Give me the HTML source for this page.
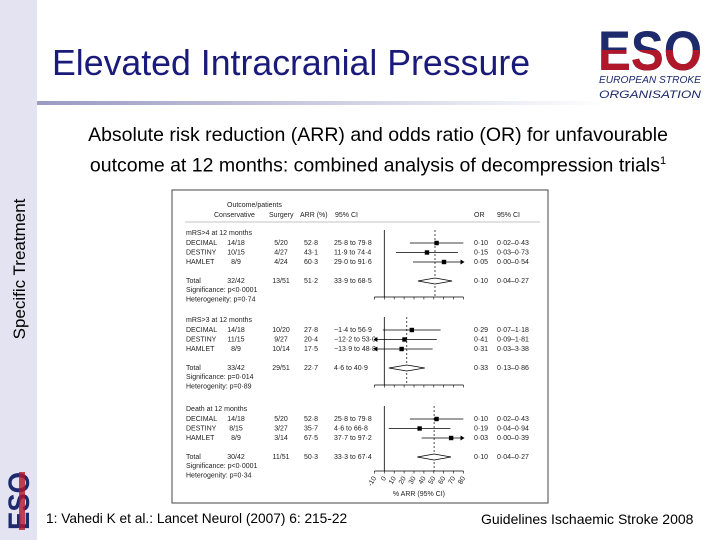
<!DOCTYPE html>
<html><head><meta charset="utf-8"><style>
body{margin:0;width:720px;height:540px;background:#fff;position:relative;overflow:hidden;font-family:"Liberation Sans",sans-serif}
.abs{position:absolute}
</style></head><body>
<div class="abs" style="left:0;top:0;width:37px;height:540px;background:#e3e3f1"></div>
<div class="abs" style="left:37px;top:101px;width:570px;height:4px;background:linear-gradient(90deg,#9a9ac4,#ffffff)"></div>
<div class="abs" style="left:52px;top:43px;font-size:35.7px;color:#1a1a7a">Elevated Intracranial Pressure</div>
<div class="abs" style="left:598px;top:14px;width:106px;height:88px">
<svg width="106" height="88"><defs><clipPath id="lowc"><rect x="0" y="36" width="106" height="30"/></clipPath></defs>
<text x="0" y="56" font-family="Liberation Sans" font-weight="bold" font-size="56" fill="#1d2a6b" textLength="104" lengthAdjust="spacingAndGlyphs">ESO</text>
<text x="0" y="56" clip-path="url(#lowc)" font-family="Liberation Sans" font-weight="bold" font-size="56" fill="#b0182a" textLength="104" lengthAdjust="spacingAndGlyphs">ESO</text>
<text x="1" y="69" font-size="10" font-style="italic" fill="#1d2a6b" textLength="102" lengthAdjust="spacingAndGlyphs">EUROPEAN STROKE</text>
<text x="1" y="84" font-size="11" font-style="italic" fill="#1d2a6b" textLength="102" lengthAdjust="spacingAndGlyphs">ORGANISATION</text></svg></div>
<div class="abs" style="left:40px;top:122px;width:676px;text-align:center;font-size:19.5px;line-height:26px;color:#000">Absolute risk reduction (ARR) and odds ratio (OR) for unfavourable<br>outcome at 12 months: combined analysis of decompression trials<sup style="font-size:11px">1</sup></div>
<div class="abs" style="left:-56px;top:259px;width:152px;text-align:center;font-size:17px;transform:rotate(-90deg);color:#000">Specific Treatment</div>
<div class="abs" style="left:3px;top:470px;width:30px;height:60px">
<svg width="30" height="60"><g transform="translate(26,60) rotate(-90)"><text x="0" y="0" font-weight="bold" font-size="30" fill="#1d2a6b" textLength="58" lengthAdjust="spacingAndGlyphs">ESO</text><rect x="0" y="-10" width="58" height="6" fill="#b0182a" opacity="0.8"/></g></svg></div>
<div class="abs" style="left:46px;top:511px;font-size:13.7px">1: Vahedi K et al.: Lancet Neurol (2007) 6: 215-22</div>
<div class="abs" style="left:481px;top:511px;font-size:14px">Guidelines Ischaemic Stroke 2008</div>
<svg id="fp" class="abs" style="left:0;top:0" width="720" height="540" font-family="Liberation Sans" font-size="7" fill="#222"></svg>
<script>
const sections=["mRS>4 at 12 months","mRS>3 at 12 months","Death at 12 months"];
const trials=["DECIMAL","DESTINY","HAMLET"];
const cons=[["14/18","10/15","8/9","32/42"],["14/18","11/15","8/9","33/42"],["14/18","8/15","8/9","30/42"]];
const surg=[["5/20","4/27","4/24","13/51"],["10/20","9/27","10/14","29/51"],["5/20","3/27","3/14","11/51"]];
const arr=[[52.8,43.1,60.3,51.2],[27.8,20.4,17.5,22.7],[52.8,35.7,67.5,50.3]];
const lo=[[25.8,11.9,29.0,33.9],[-1.4,-12.2,-13.9,4.6],[25.8,4.6,37.7,33.3]];
const hi=[[79.8,74.4,91.6,68.5],[56.9,53.0,48.8,40.9],[79.8,66.8,97.2,67.4]];
const orv=[["0·10","0·15","0·05","0·10"],["0·29","0·41","0·31","0·33"],["0·10","0·19","0·03","0·10"]];
const orci=[["0·02–0·43","0·03–0·73","0·00–0·54","0·04–0·27"],["0·07–1·18","0·09–1·81","0·03–3·38","0·13–0·86"],["0·02–0·43","0·04–0·94","0·00–0·39","0·04–0·27"]];
const sig=["p<0·0001","p=0·014","p<0·0001"];
const het=["p=0·74","p=0·89","p=0·34"];
const ticks=[-10,0,10,20,30,40,50,60,70,80];
const svg=document.getElementById('fp');const NS="http://www.w3.org/2000/svg";
const xs=v=>384.3+v*0.99;const XMIN=-10,XMAX=80;
function el(t,a,txt){const e=document.createElementNS(NS,t);for(const k in a)e.setAttribute(k,a[k]);if(txt!==undefined)e.textContent=txt;svg.appendChild(e);return e;}
const box=el('rect',{x:172,y:190,width:376,height:313,fill:'none',stroke:'#444','stroke-width':1});

el('text',{x:227,y:207},'Outcome/patients');
[['Conservative',214],['Surgery',269],['ARR (%)',300],['95% CI',335],['OR',474],['95% CI',497]].forEach(h=>{const t=el('text',{x:h[1],y:217},h[0]);});
el('line',{x1:185,x2:540,y1:222,y2:222,stroke:'#888','stroke-width':0.6});
const tops=[233,320,409];
sections.forEach((s,i)=>{
 const y0=tops[i];const rows=[y0+10,y0+19.5,y0+29,y0+48];
 const h=el('text',{x:186,y:y0+2},s);
 const axY=[297,385,471][i];
 el('line',{x1:xs(0),x2:xs(0),y1:y0-3,y2:axY,stroke:'#000','stroke-width':0.8});
 el('line',{x1:xs(arr[i][3]),x2:xs(arr[i][3]),y1:y0-3,y2:axY,stroke:'#000','stroke-width':0.7,'stroke-dasharray':'2,2'});
 const ax=el('line',{x1:xs(XMIN),x2:xs(XMAX),y1:axY,y2:axY,stroke:'#000','stroke-width':0.7});
 
 ticks.forEach(t=>el('line',{x1:xs(t),x2:xs(t),y1:axY,y2:axY+2.5,stroke:'#000','stroke-width':0.6}));
 for(let r=0;r<4;r++){
  const y=rows[r];
  el('text',{x:186,y:y+2},r<3?trials[r]:'Total');
  el('text',{x:236,y:y+2,'text-anchor':'middle'},cons[i][r]);
  el('text',{x:281,y:y+2,'text-anchor':'middle'},surg[i][r]);
  el('text',{x:311,y:y+2,'text-anchor':'middle'},arr[i][r].toFixed(1).replace('.','·'));
  el('text',{x:334,y:y+2},lo[i][r].toFixed(1).replace('.','·').replace('-','−')+' to '+hi[i][r].toFixed(1).replace('.','·'));
  el('text',{x:474,y:y+2},orv[i][r]);
  el('text',{x:497,y:y+2},orci[i][r]);
  const a=Math.max(lo[i][r],XMIN),b=Math.min(hi[i][r],XMAX);
  if(r<3){
   const ln=el('line',{x1:xs(a),x2:xs(b),y1:y,y2:y,stroke:'#000','stroke-width':0.8});
   
   const pt=el('rect',{x:xs(arr[i][r])-2.2,y:y-2.2,width:4.4,height:4.4,fill:'#000'});
   
   if(hi[i][r]>XMAX)el('polygon',{points:`${xs(XMAX)+1},${y} ${xs(XMAX)-3},${y-2.5} ${xs(XMAX)-3},${y+2.5}`,fill:'#000'});
   if(lo[i][r]<XMIN)el('polygon',{points:`${xs(XMIN)-1},${y} ${xs(XMIN)+3},${y-2.5} ${xs(XMIN)+3},${y+2.5}`,fill:'#000'});
  }else{
   const d=el('polygon',{points:`${xs(lo[i][r])},${y} ${xs(arr[i][r])},${y-3} ${xs(hi[i][r])},${y} ${xs(arr[i][r])},${y+3}`,fill:'#fff',stroke:'#000','stroke-width':0.8});
   
  }
 }
 el('text',{x:186,y:rows[3]+11},'Significance: '+sig[i]);
 el('text',{x:186,y:rows[3]+20.5},(i==0?'Heterogeneity: ':'Heterogenity: ')+het[i]);
});
ticks.forEach(t=>{const l=el('text',{x:xs(t)+2,y:478,'text-anchor':'end',transform:`rotate(-60 ${xs(t)+2} 478)`},String(t));});
const xt=el('text',{x:xs(35),y:496,'text-anchor':'middle'},'% ARR (95% CI)');

</script>
</body></html>
